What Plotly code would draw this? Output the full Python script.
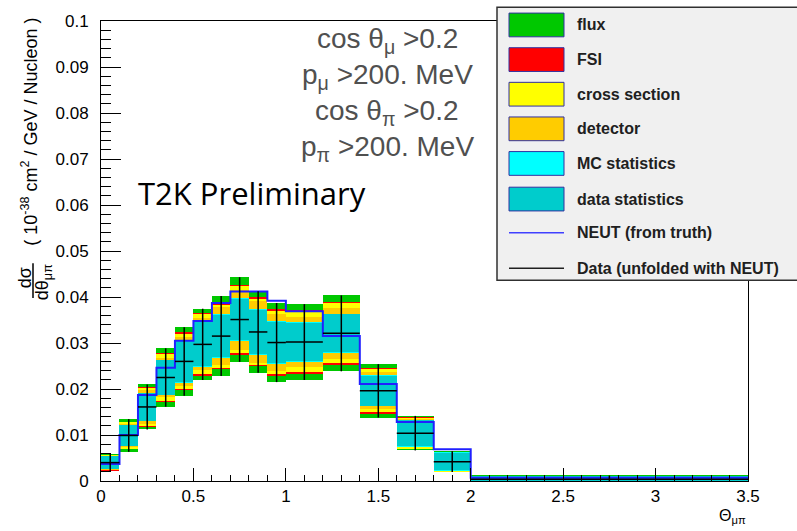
import plotly.graph_objects as go

# ---------------- data ----------------
bin_edges = [0.0, 0.1, 0.2, 0.3, 0.4, 0.5, 0.6, 0.7, 0.8, 0.9, 1.0,
             1.2, 1.4, 1.6, 1.8, 2.0, 3.5]
data_xsec = [0.0040, 0.0099, 0.0161, 0.0225, 0.0260, 0.0297, 0.0315, 0.0351,
             0.0324, 0.0301, 0.0302, 0.0321, 0.0196, 0.0104, 0.0042, 0.0004]
neut_xsec = [0.0037, 0.0100, 0.0187, 0.0246, 0.0305, 0.0348, 0.0387, 0.0412,
             0.0412, 0.0392, 0.0369, 0.0315, 0.0211, 0.0128, 0.0069, 0.0007]
# cumulative half-widths of the error bands (outermost first)
err_flux = [0.00190, 0.00355, 0.00490, 0.00635, 0.00745, 0.00775, 0.00870, 0.00920,
            0.00885, 0.00860, 0.00825, 0.00825, 0.00580, 0.00375, 0.00225, 0.00080]
err_fsi = [0.00175, 0.00295, 0.00431, 0.00530, 0.00630, 0.00680, 0.00720, 0.00760,
           0.00750, 0.00720, 0.00690, 0.00680, 0.00505, 0.00350, 0.00220, 0.00078]
err_xsec = [0.00167, 0.00284, 0.00417, 0.00508, 0.00603, 0.00651, 0.00687, 0.00727,
            0.00726, 0.00688, 0.00660, 0.00652, 0.00470, 0.00338, 0.00214, 0.00076]
err_det = [0.00152, 0.00252, 0.00363, 0.00432, 0.00529, 0.00566, 0.00626, 0.00653,
           0.00664, 0.00619, 0.00536, 0.00553, 0.00400, 0.00308, 0.00203, 0.00074]
err_mcstat = [0.00137, 0.00227, 0.00314, 0.00381, 0.00462, 0.00496, 0.00480, 0.00460,
              0.00500, 0.00460, 0.00440, 0.00430, 0.00340, 0.00290, 0.00200, 0.00072]
err_datastat = [0.00133, 0.00220, 0.00309, 0.00375, 0.00454, 0.00480, 0.00461, 0.00442,
                0.00487, 0.00439, 0.00421, 0.00413, 0.00325, 0.00281, 0.00191, 0.00070]

layer_names = ["flux", "FSI", "cross section", "detector", "MC statistics", "data statistics"]
layer_errs = [err_flux, err_fsi, err_xsec, err_det, err_mcstat, err_datastat]
layer_colors = ["#00c800", "#ff0000", "#ffff00", "#ffcc00", "#00ffff", "#00cccc"]

x_ticks = [0, 0.5, 1, 1.5, 2, 2.5, 3, 3.5]
x_ticklabels = ["0", "0.5", "1", "1.5", "2", "2.5", "3", "3.5"]
y_ticks = [0, 0.01, 0.02, 0.03, 0.04, 0.05, 0.06, 0.07, 0.08, 0.09, 0.1]
y_ticklabels = ["0", "0.01", "0.02", "0.03", "0.04", "0.05", "0.06", "0.07", "0.08", "0.09", "0.1"]

cut_lines = ["cos θ<sub>μ</sub> >0.2", "p<sub>μ</sub> >200. MeV",
             "cos θ<sub>π</sub> >0.2", "p<sub>π</sub> >200. MeV"]

# ---------------- figure ----------------
W, H = 797, 531
ML, MR, MT, MB = 101, 49, 16, 50
PW, PH = W - ML - MR, H - MT - MB


def px(xp):
    return (xp - ML) / PW


def py(yp):
    return (H - MB - yp) / PH


centers = [(a + b) / 2 for a, b in zip(bin_edges[:-1], bin_edges[1:])]
widths = [b - a for a, b in zip(bin_edges[:-1], bin_edges[1:])]

fig = go.Figure()
for name, errs, col in zip(layer_names, layer_errs, layer_colors):
    fig.add_trace(go.Bar(
        x=centers, y=[2 * e for e in errs],
        base=[d - e for d, e in zip(data_xsec, errs)],
        width=widths, marker=dict(color=col, line=dict(width=0)),
        name=name, showlegend=False, hoverinfo="skip"))

# NEUT step line
step_x = list(bin_edges)
step_y = list(neut_xsec) + [neut_xsec[-1]]
fig.add_trace(go.Scatter(x=step_x, y=step_y, mode="lines",
                         line=dict(color="#2020ff", width=2, shape="hv"),
                         showlegend=False, hoverinfo="skip"))

# Data points with error bars
fig.add_trace(go.Scatter(
    x=centers, y=data_xsec, mode="markers",
    marker=dict(size=1, color="black"),
    error_x=dict(type="data", array=[w / 2 for w in widths], width=0,
                 color="black", thickness=1.5),
    error_y=dict(type="data", array=err_flux, width=0, color="black", thickness=1.5),
    showlegend=False, hoverinfo="skip"))

axis_font = dict(family="Liberation Sans, Arial, sans-serif", size=17, color="black")

fig.update_layout(
    width=W, height=H,
    margin=dict(l=ML, r=MR, t=MT, b=MB, pad=0),
    paper_bgcolor="white", plot_bgcolor="white",
    barmode="overlay", bargap=0, showlegend=False,
    xaxis=dict(range=[0, 3.5], tickvals=x_ticks, ticktext=x_ticklabels,
               ticks="inside", ticklen=13, tickwidth=1, tickcolor="black",
               minor=dict(ticks="inside", ticklen=6, dtick=0.1, tickcolor="black", tickwidth=1),
               showline=True, linecolor="black", linewidth=1, mirror=True,
               showgrid=False, zeroline=False, tickfont=axis_font),
    yaxis=dict(range=[0, 0.1], tickvals=y_ticks, ticktext=y_ticklabels,
               ticks="inside", ticklen=20, tickwidth=1, tickcolor="black",
               minor=dict(ticks="inside", ticklen=10, dtick=0.002, tickcolor="black", tickwidth=1),
               showline=True, linecolor="black", linewidth=1, mirror=True,
               showgrid=False, zeroline=False, tickfont=axis_font,
               ticklabelstandoff=8),
)

annotations = []
shapes = []

# cut text
cut_y = [36, 72, 109, 145]
for t, yy in zip(cut_lines, cut_y):
    annotations.append(dict(text=t, x=px(387), y=py(yy), xref="paper", yref="paper",
                            xanchor="center", yanchor="middle", showarrow=False,
                            font=dict(family="Liberation Sans, Arial, sans-serif",
                                      size=28, color="#505050")))

annotations.append(dict(text="T2K Preliminary", x=px(136), y=py(190), xref="paper", yref="paper",
                        xanchor="left", yanchor="middle", showarrow=False,
                        font=dict(family="Open Sans, sans-serif", size=31, color="black")))

# x-axis title
annotations.append(dict(text="Θ<sub>μπ</sub>", x=px(748), y=py(517), xref="paper", yref="paper",
                        xanchor="right", yanchor="middle", showarrow=False,
                        font=dict(family="Liberation Sans, Arial, sans-serif", size=16, color="black")))

# y-axis title
ytfont = dict(family="Liberation Sans, Arial, sans-serif", size=18, color="black")
annotations.append(dict(text="( 10<sup>-38</sup> cm<sup>2</sup> / GeV / Nucleon )",
                        x=px(30), y=py(128), xref="paper", yref="paper",
                        xanchor="center", yanchor="middle", textangle=-90, showarrow=False,
                        font=ytfont))
annotations.append(dict(text="dσ", x=px(25), y=py(276), xref="paper", yref="paper",
                        xanchor="center", yanchor="middle", textangle=-90, showarrow=False,
                        font=ytfont))
annotations.append(dict(text="dθ<sub>μπ</sub>", x=px(43), y=py(280), xref="paper", yref="paper",
                        xanchor="center", yanchor="middle", textangle=-90, showarrow=False,
                        font=ytfont))
shapes.append(dict(type="line", xref="paper", yref="paper", x0=px(33), x1=px(33),
                   y0=py(261), y1=py(296), line=dict(color="black", width=1.5)))

# legend box
shapes.append(dict(type="rect", xref="paper", yref="paper", x0=px(497), x1=px(805),
                   y0=py(278), y1=py(2), fillcolor="#f0f0f0",
                   line=dict(color="#303030", width=1.5), layer="above"))
leg_y = [20, 55, 90, 125, 160, 196]
for name, col, yy in zip(layer_names, layer_colors, leg_y):
    shapes.append(dict(type="rect", xref="paper", yref="paper", x0=px(509), x1=px(564),
                       y0=py(yy + 12), y1=py(yy - 12), fillcolor=col,
                       line=dict(color="#3030a0", width=1), layer="above"))
    annotations.append(dict(text="<b>%s</b>" % name, x=px(575), y=py(yy), xref="paper", yref="paper",
                            xanchor="left", yanchor="middle", showarrow=False,
                            font=dict(family="Liberation Sans, Arial, sans-serif", size=16, color="#202020")))
line_entries = [("NEUT (from truth)", "#4040ff", 230), ("Data (unfolded with NEUT)", "#202020", 266)]
for name, col, yy in line_entries:
    shapes.append(dict(type="line", xref="paper", yref="paper", x0=px(509), x1=px(564),
                       y0=py(yy), y1=py(yy), line=dict(color=col, width=1.5), layer="above"))
    annotations.append(dict(text="<b>%s</b>" % name, x=px(575), y=py(yy), xref="paper", yref="paper",
                            xanchor="left", yanchor="middle", showarrow=False,
                            font=dict(family="Liberation Sans, Arial, sans-serif", size=16, color="#202020")))

fig.update_layout(annotations=annotations, shapes=shapes)
fig.write_html("out.html")
